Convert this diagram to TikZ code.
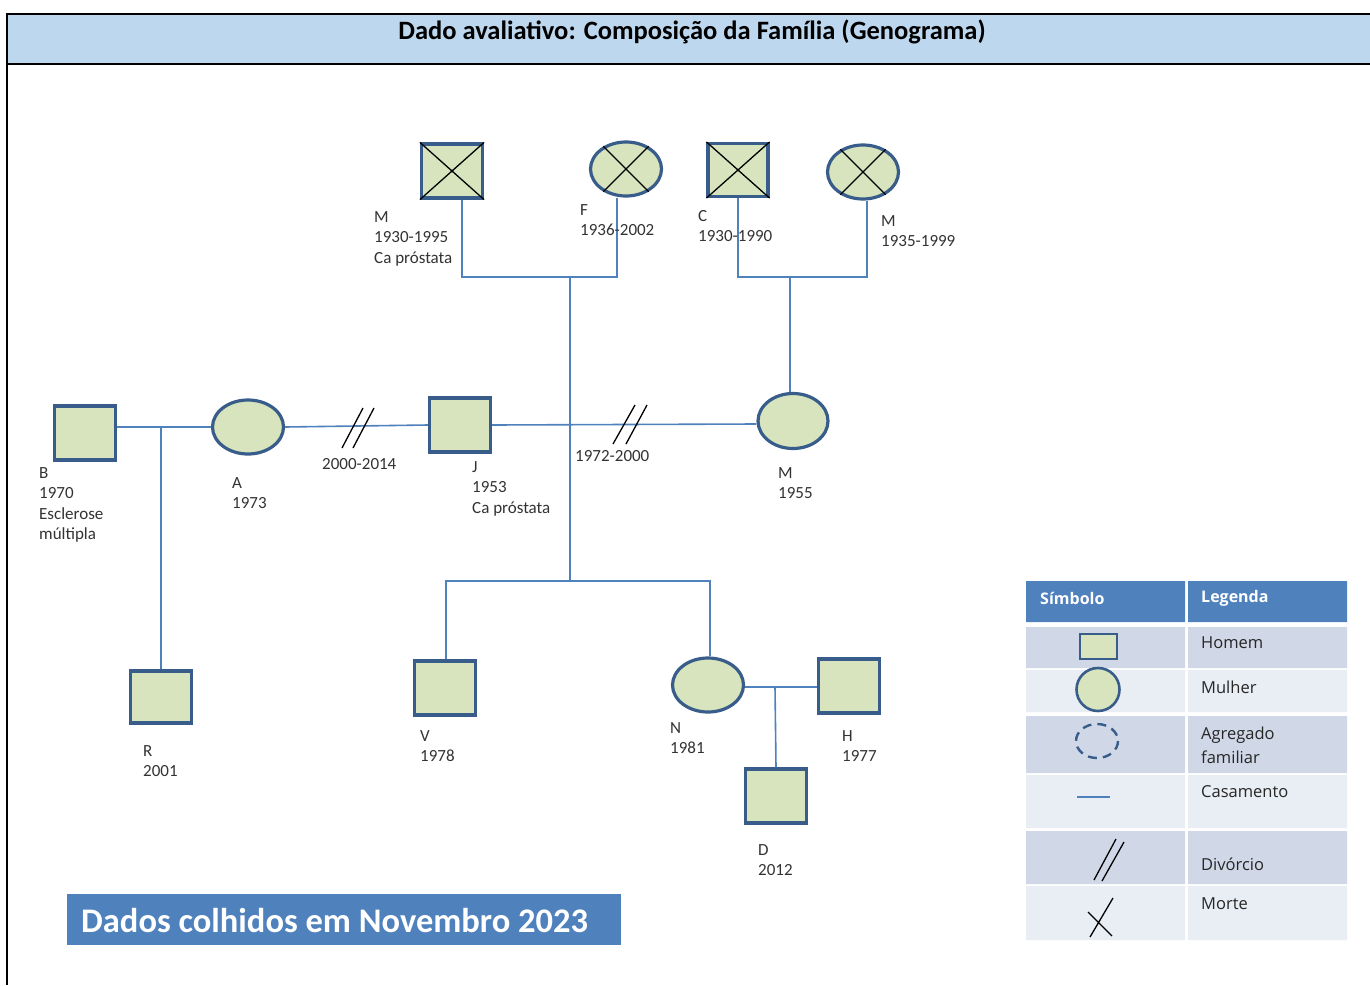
\documentclass[tikz,border=0pt]{standalone}
\usepackage{fontspec}
\setmainfont{Carlito}
\newfontfamily\legendfont{Open Sans}
\usetikzlibrary{shapes.geometric}
\definecolor{nodefill}{HTML}{D7E4BD}
\definecolor{nodeline}{HTML}{385D8A}
\definecolor{kincol}{HTML}{4F81BD}
\definecolor{headfill}{HTML}{BDD7EE}
\definecolor{bluebar}{HTML}{4F81BD}
\definecolor{rowdark}{HTML}{D0D8E8}
\definecolor{rowlight}{HTML}{E9EDF4}
\definecolor{labeltext}{HTML}{333333}
\definecolor{legendtext}{HTML}{262626}
\begin{document}
\begin{tikzpicture}[x=1pt,y=-1pt,
  man/.style={rectangle, draw=nodeline, line width=3.2pt, fill=nodefill,
    minimum width=61pt, minimum height=54pt, inner sep=0pt},
  woman/.style={ellipse, draw=nodeline, line width=3.2pt, fill=nodefill,
    minimum width=71pt, minimum height=54pt, inner sep=0pt},
  kin/.style={draw=kincol, line width=1.6pt},
  cross/.style={draw=black, line width=1.3pt},
  lbl/.style={anchor=north west, inner sep=0pt, align=left, text=labeltext,
    font=\fontsize{17}{20.5}\selectfont},
  legtxt/.style={anchor=west, inner sep=0pt, align=left, text=legendtext,
    font=\legendfont\fontsize{16.5}{24}\selectfont},
  leghead/.style={anchor=west, inner sep=0pt, text=white,
    font=\legendfont\bfseries\fontsize{16}{20}\selectfont},
]
% page and frame
\fill[white] (0,0) rectangle (1370,985);
\useasboundingbox (0,0) rectangle (1370,985);
\fill[headfill] (7,14) rectangle (1370,64);
\draw[black, line width=2pt] (1370,14) -- (7,14) -- (7,985);
\draw[black, line width=2pt] (7,64) -- (1370,64);
\node[font=\bfseries\fontsize{26.5}{30}\selectfont] (title) at (692,32)
  {Dado avaliativo: Composição da Família (Genograma)};

% grandparents
\node[man] (gpM) at (452,171) {};
\node[woman] (gmF) at (626,169) {};
\node[man, minimum width=60pt, minimum height=53pt] (gpC) at (738,170) {};
\node[woman] (gmM) at (863,172) {};
\foreach \n in {gpM,gpC}
  \draw[cross] (\n.north west) -- (\n.south east) (\n.north east) -- (\n.south west);
\foreach \n in {gmF,gmM}
  \draw[cross] (\n.135) -- (\n.-45) (\n.45) -- (\n.-135);

% parents' generation
\node[man] (B) at (85,433) {};
\node[woman] (A) at (248,427) {};
\node[man] (J) at (460,425) {};
\node[woman, minimum width=70pt, minimum height=55pt] (M) at (793,421) {};

% children and grandchildren
\node[man, minimum height=52pt] (R) at (161,697) {};
\node[man] (V) at (445,688) {};
\node[woman] (N) at (708,685) {};
\node[man] (H) at (849,686) {};
\node[man] (D) at (776,796) {};

% connector junctions
\coordinate (jp) at (570,277);
\coordinate (jm) at (790,277);
\coordinate (jc) at (570,581);
\coordinate (jb) at (161,427);
\coordinate (jn) at (775,687);

% kinship lines
\draw[kin] ([xshift=10pt]gpM.south) |- (jp) -| ([xshift=-9pt]gmF.south);
\draw[kin] (jp) -- (jc);
\draw[kin] (gpC.south) |- (jm) -| ([xshift=4pt]gmM.south);
\draw[kin] (jm) -- (jm |- M.north);
\draw[kin] (B.east |- A.west) -- (A.west);
\draw[kin] (jb) -- (R.north);
\draw[kin] (A.east) -- (J.west);
\draw[kin] (J.east) -- ([yshift=-3pt]M.west);
\draw[kin] ([xshift=1pt]V.north) |- (jc) -| ([xshift=2pt]N.north);
\draw[kin] ([yshift=-2pt]N.east) -- ([yshift=-1pt]H.west);
\draw[kin] (jn) -- (D.north);

% divorce marks
\draw[cross] (342,448) -- (363,408) (353,448) -- (374,408);
\draw[cross] (613,444) -- (635,405) (626,444) -- (647,405);

% labels
\node[lbl] (lgpM) at (374,211) {M\\1930-1995\\Ca próstata};
\node[lbl] (lgmF) at (580,204) {F\\1936-2002};
\node[lbl] (lgpC) at (698,210) {C\\1930-1990};
\node[lbl] (lgmM) at (881,215) {M\\1935-1999};
\node[lbl] (lB) at (39,467) {B\\1970\\Esclerose\\múltipla};
\node[lbl] (lA) at (232,477) {A\\1973};
\node[lbl] (lAJ) at (322,458) {2000-2014};
\node[lbl] (lJ) at (472,461) {J\\1953\\Ca próstata};
\node[lbl] (lJM) at (575,450) {1972-2000};
\node[lbl] (lM) at (778,467) {M\\1955};
\node[lbl] (lR) at (143,745) {R\\2001};
\node[lbl] (lV) at (420,730) {V\\1978};
\node[lbl] (lN) at (670,722) {N\\1981};
\node[lbl] (lH) at (842,730) {H\\1977};
\node[lbl] (lD) at (758,844) {D\\2012};

% date banner
\fill[bluebar] (67,894) rectangle (621,945);
\node[anchor=west, inner sep=0pt, text=white, font=\bfseries\fontsize{34.5}{38}\selectfont]
  (banner) at (81,921) {Dados colhidos em Novembro 2023};

% legend table
\fill[bluebar] (1026,581) rectangle (1185,622) (1188,581) rectangle (1347,622);
\fill[rowdark]  (1026,627) rectangle (1185,668) (1188,627) rectangle (1347,668);
\fill[rowlight] (1026,670) rectangle (1185,712) (1188,670) rectangle (1347,712);
\fill[rowdark]  (1026,716) rectangle (1185,773) (1188,716) rectangle (1347,773);
\fill[rowlight] (1026,775) rectangle (1185,828) (1188,775) rectangle (1347,828);
\fill[rowdark]  (1026,831) rectangle (1185,884) (1188,831) rectangle (1347,884);
\fill[rowlight] (1026,886) rectangle (1185,940) (1188,886) rectangle (1347,940);

\node[leghead] (hsym) at (1040,598) {Símbolo};
\node[leghead] (hleg) at (1201,598) {Legenda};

\draw[draw=nodeline, line width=2.6pt, fill=nodefill] (1080,634) rectangle (1117,659);
\draw[draw=nodeline, line width=2.6pt, fill=nodefill] (1098,689.5) circle (21.5);
\draw[draw=nodeline, line width=2.4pt, dash pattern=on 9pt off 6pt] (1097,741) ellipse (21 and 17);
\draw[kin] (1077,797) -- (1110,797);
\draw[cross] (1094,880) -- (1116,839) (1102,881) -- (1124,842);
\draw[cross] (1090,937) -- (1113,898) (1088,912) -- (1112,936);

\node[legtxt] (tHomem) at (1201,643) {Homem};
\node[legtxt] (tMulher) at (1201,687) {Mulher};
\node[legtxt] (tAgreg) at (1201,745) {Agregado\\familiar};
\node[legtxt] (tCasam) at (1201,792) {Casamento};
\node[legtxt] (tDivor) at (1201,864) {Divórcio};
\node[legtxt] (tMorte) at (1201,904) {Morte};
\end{tikzpicture}
\end{document}
